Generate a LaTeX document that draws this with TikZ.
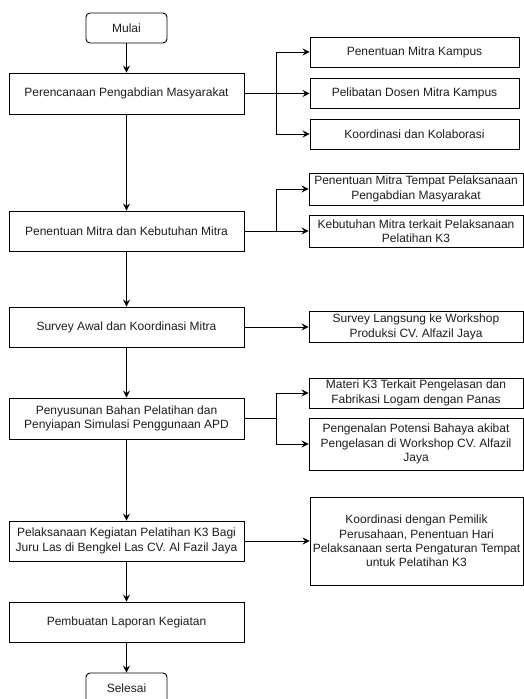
\documentclass[tikz,border=0pt]{standalone}
\usepackage{fontspec}
\setmainfont{Liberation Sans}
\usetikzlibrary{arrows.meta}
\definecolor{txt}{HTML}{1E1E1E}
\begin{document}
\begin{tikzpicture}[x=1pt,y=-1pt,
  box/.style={draw=black,line width=0.9pt,fill=white,inner sep=1pt,align=center,
    font=\fontsize{12}{14.4}\selectfont,text=txt},
  mainbox/.style={box,minimum width=235pt,minimum height=41pt},
  termbox/.style={box,rounded corners=4pt,minimum width=81pt,minimum height=30pt},
  sidebox/.style={box,minimum width=214pt},
  arr/.style={draw=black,line width=0.9pt,-{Stealth[length=7pt,width=7pt,inset=2.5pt]}},
  ln/.style={draw=black,line width=0.9pt}]
\useasboundingbox (0,0) rectangle (524,699);
\fill[white] (0,0) rectangle (524,699);
% main column
\node[termbox] (mulai) at (126.5,28) {Mulai};
\node[mainbox] (p1) at (126.5,93.5) {Perencanaan Pengabdian Masyarakat};
\node[mainbox,minimum height=40pt] (p2) at (126.5,231) {Penentuan Mitra dan Kebutuhan Mitra};
\node[mainbox,minimum height=40pt] (p3) at (126.5,327) {Survey Awal dan Koordinasi Mitra};
\node[mainbox] (p4) at (126.5,418.5) {Penyusunan Bahan Pelatihan dan\\Penyiapan Simulasi Penggunaan APD};
\node[mainbox,minimum height=40pt] (p5) at (126.5,541) {Pelaksanaan Kegiatan Pelatihan K3 Bagi\\Juru Las di Bengkel Las CV. Al Fazil Jaya};
\node[mainbox,minimum height=40pt] (p6) at (126.5,622) {Pembuatan Laporan Kegiatan};
\node[termbox] (selesai) at (126.5,688) {Selesai};
% side boxes
\node[sidebox,minimum width=209pt,minimum height=30pt] (r1) at (414.5,52) {Penentuan Mitra Kampus};
\node[sidebox,minimum width=209pt,minimum height=30pt] (r2) at (414.5,93.5) {Pelibatan Dosen Mitra Kampus};
\node[sidebox,minimum width=209pt,minimum height=30pt] (r3) at (414.5,134) {Koordinasi dan Kolaborasi};
\node[sidebox,minimum height=32pt] (r4) at (416,189) {Penentuan Mitra Tempat Pelaksanaan\\Pengabdian Masyarakat};
\node[sidebox,minimum height=32pt] (r5) at (416,231) {Kebutuhan Mitra terkait Pelaksanaan\\Pelatihan K3};
\node[sidebox,minimum height=31pt] (r6) at (416,327) {Survey Langsung ke Workshop\\Produksi CV. Alfazil Jaya};
\node[sidebox,minimum height=30pt] (r7) at (416,393) {Materi K3 Terkait Pengelasan dan\\Fabrikasi Logam dengan Panas};
\node[sidebox,minimum height=52pt] (r8) at (416,444) {Pengenalan Potensi Bahaya akibat\\Pengelasan di Workshop CV. Alfazil\\Jaya};
\node[sidebox,minimum width=213pt,minimum height=88pt] (r9) at (416.5,541) {Koordinasi dengan Pemilik\\Perusahaan, Penentuan Hari\\Pelaksanaan serta Pengaturan Tempat\\untuk Pelatihan K3};
% main flow
\draw[arr] (mulai) -- (p1);
\draw[arr] (p1) -- (p2);
\draw[arr] (p2) -- (p3);
\draw[arr] (p3) -- (p4);
\draw[arr] (p4) -- (p5);
\draw[arr] (p5) -- (p6);
\draw[arr] (p6) -- (selesai);
% branches
\coordinate (b1) at (276,93.5);
\draw[ln] (p1.east) -- (b1);
\draw[arr] (b1) |- (r1.west);
\draw[arr] (b1) -- (r2.west);
\draw[arr] (b1) |- (r3.west);
\coordinate (b2) at (276,231);
\draw[ln] (p2.east) -- (b2);
\draw[arr] (b2) |- (r4.west);
\draw[arr] (b2) -- (r5.west);
\draw[arr] (p3.east) -- (r6.west);
\coordinate (b4) at (276,418.5);
\draw[ln] (p4.east) -- (b4);
\draw[arr] (b4) |- (r7.west);
\draw[arr] (b4) |- (r8.west);
\draw[arr] (p5.east) -- (r9.west);
\end{tikzpicture}
\end{document}
